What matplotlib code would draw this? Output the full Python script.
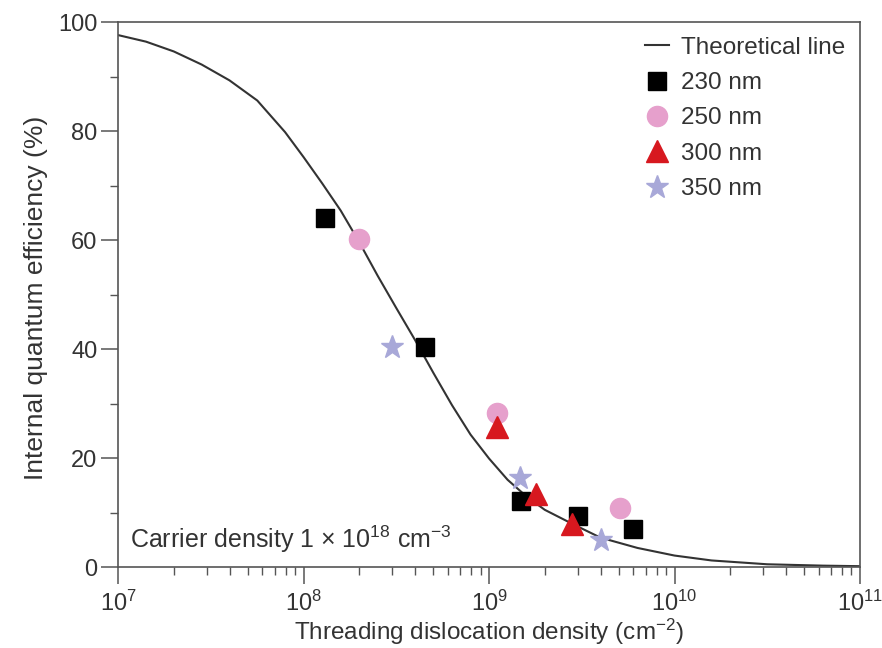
import numpy as np
import matplotlib
matplotlib.use("Agg")
from matplotlib import pyplot as plt
from matplotlib.ticker import MultipleLocator, LogLocator

plt.rcParams['font.family'] = ['Liberation Sans', 'DejaVu Sans']
plt.rcParams['mathtext.default'] = 'regular'

# theoretical line (log10 of density, IQE %)
theory_logx = [7.0, 7.15, 7.3, 7.45, 7.6, 7.75, 7.9, 8.0, 8.1, 8.2, 8.3, 8.4, 8.5,
               8.6, 8.7, 8.8, 8.9, 9.0, 9.1, 9.2, 9.3, 9.45, 9.6, 9.8, 10.0,
               10.2, 10.5, 10.8, 11.0]
theory_iqe = [97.6, 96.4, 94.6, 92.2, 89.3, 85.6, 79.8, 75.2, 70.4, 65.4, 59.6, 53.4,
              47.5, 41.7, 35.6, 29.7, 24.3, 19.9, 16.0, 13.0, 10.5, 7.9, 5.4, 3.5,
              2.1, 1.2, 0.5, 0.25, 0.15]

d230 = [1.31e8, 4.5e8, 1.49e9, 3.0e9, 6.0e9]
q230 = [64, 40.3, 12.1, 9.4, 7.0]
d250 = [2.0e8, 1.1e9, 5.1e9]
q250 = [60.1, 28.3, 10.8]
d300 = [1.1e9, 1.8e9, 2.8e9]
q300 = [25.7, 13.4, 7.9]
d350 = [3.0e8, 1.47e9, 4.0e9]
q350 = [40.3, 16.4, 5.0]

gray = '#555555'
txt = '#333333'

fig = plt.figure(figsize=(8.82, 6.48), dpi=100)
ax = fig.add_axes([0.134, 0.125, 0.841, 0.841])

ax.plot(10 ** np.array(theory_logx), theory_iqe, color='#333333', lw=1.5,
        label='Theoretical line')
ax.plot(d230, q230, 's', color='black', ms=13.5, ls='none', label='230 nm')
ax.plot(d250, q250, 'o', color='#e6a0cc', ms=14.5, ls='none', label='250 nm')
ax.plot(d300, q300, '^', color='#d7181f', ms=16, ls='none', label='300 nm')
ax.plot(d350, q350, '*', color='#a8a8d8', ms=17, ls='none', label='350 nm')

ax.set_xscale('log')
ax.set_xlim(1e7, 1e11)
ax.set_ylim(0, 100)
ax.xaxis.set_major_locator(LogLocator(base=10, numticks=10))
ax.xaxis.set_minor_locator(LogLocator(base=10, subs=np.arange(2, 10), numticks=20))
ax.yaxis.set_major_locator(MultipleLocator(20))
ax.yaxis.set_minor_locator(MultipleLocator(10))

for s in ax.spines.values():
    s.set_color(gray)
    s.set_linewidth(1.2)
ax.tick_params(which='major', length=12, width=1.1, color=gray, labelsize=17,
               labelcolor=txt, pad=3)
ax.tick_params(which='minor', length=6, width=1.0, color=gray)
ax.tick_params(axis='x', which='major', pad=5)

ax.set_xlabel('Threading dislocation density (cm$^{-2}$)', fontsize=17.5, color=txt)
ax.set_ylabel('Internal quantum efficiency (%)', fontsize=19, color=txt)
ax.xaxis.set_label_coords(0.5, -0.092)
ax.yaxis.set_label_coords(-0.095, 0.494)

ax.text(0.016, 0.05, r'Carrier density 1 $\times$ 10$^{18}$ cm$^{-3}$',
        transform=ax.transAxes, fontsize=18, color=txt, va='center', ha='left')

leg = ax.legend(loc='upper right', frameon=False, fontsize=17.5, handlelength=1.0,
                handletextpad=0.5, labelspacing=0.55, borderaxespad=0.1,
                borderpad=0.5, markerscale=1.0)
for t in leg.get_texts():
    t.set_color(txt)

fig.savefig('out.png', dpi=100)
